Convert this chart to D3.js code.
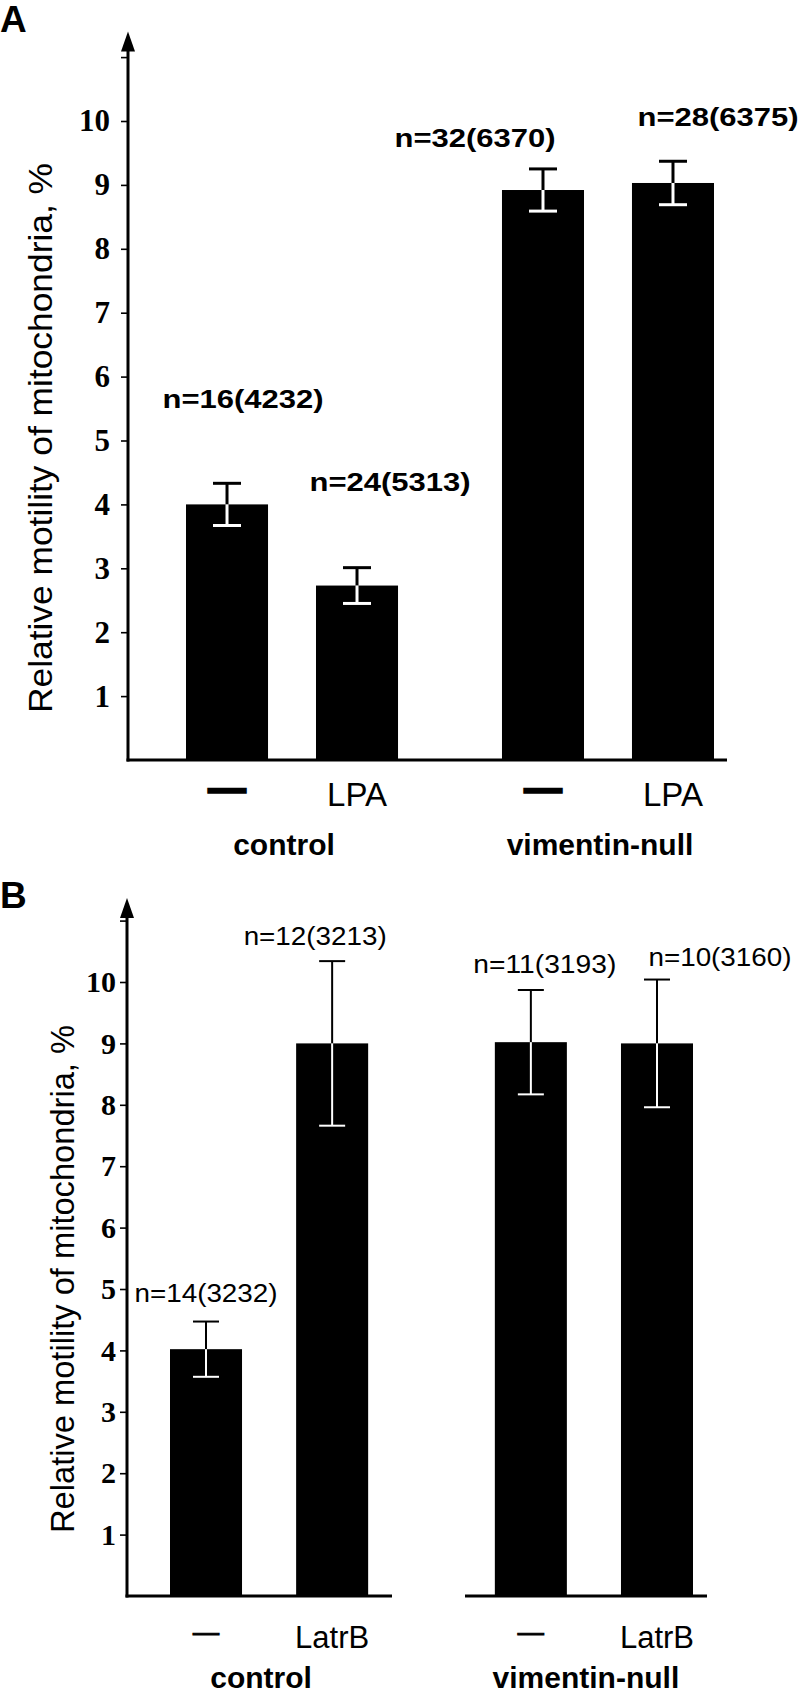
<!DOCTYPE html>
<html><head><meta charset="utf-8">
<script src="https://cdn.jsdelivr.net/npm/d3@7"></script>
<style>body{margin:0;background:#fff}svg{display:block}</style>
</head><body>
<svg id="chart" width="800" height="1693"></svg>
<script>
// ---------- data ----------
const groups = ["control", "vimentin-null"];
const treatmentsA = ["—", "LPA"];
const treatmentsB = ["—", "LatrB"];
const meansA = [4.0, 2.73, 8.92, 9.03];
const errorsA = [0.33, 0.28, 0.33, 0.34];
const nLabelsA = ["n=16(4232)", "n=24(5313)", "n=32(6370)", "n=28(6375)"];
const meansB = [4.02, 9.0, 9.02, 9.0];
const errorsB = [0.45, 1.34, 0.85, 1.04];
const nLabelsB = ["n=14(3232)", "n=12(3213)", "n=11(3193)", "n=10(3160)"];
const tickValues = [1, 2, 3, 4, 5, 6, 7, 8, 9, 10, 11];
const tickLabels = ["1", "2", "3", "4", "5", "6", "7", "8", "9", "10", ""];
const yTitle = "Relative motility of mitochondria, %";
const panelLetters = ["A", "B"];

// ---------- layout ----------
const panels = [
  {
    letter: panelLetters[0], letterY: 32,
    treatments: treatmentsA, means: meansA, errors: errorsA, nLabels: nLabelsA,
    yRange: [760, 121], axisX: 128, tipValue: 11.4,
    outerRange: [186, 714], outerPad: 0.329, innerPad: 0.369,
    baselines: [[0, 727]],
    errW: 3, capHalf: 14,
    tickFont: 31, tickPad: 11,
    titleX: 52, titleY: 438, titleLen: 550, titleFont: 33,
    nFont: 26, nWeight: "bold", nLen: 161,
    nOffsets: [[16, 75], [33, 77], [-68, 22], [45, 35]],
    xLabelY: 806, xLabelFont: 33, dashFont: 36, dashStroke: 3.5, dashDy: -6,
    groupY: 855
  },
  {
    letter: panelLetters[1], letterY: 908,
    treatments: treatmentsB, means: meansB, errors: errorsB, nLabels: nLabelsB,
    yRange: [1596, 982], axisX: 127, tipValue: 11.37,
    outerRange: [170, 693], outerPad: 0.39, innerPad: 0.429,
    baselines: [[0, 392], [465, 707]],
    errW: 2, capHalf: 13,
    tickFont: 30, tickPad: 4,
    titleX: 74, titleY: 1279, titleLen: 508, titleFont: 33,
    nFont: 25, nWeight: "normal", nLen: 143,
    nOffsets: [[0, 20], [-17, 16], [14, 17], [63, 14]],
    xLabelY: 1648, xLabelFont: 31, dashFont: 26, dashStroke: 1.2, dashDy: -7,
    groupY: 1688
  }
];

const svg = d3.select("#chart");
const sans = "'Liberation Sans', Arial, Helvetica, sans-serif";
const serif = "'Liberation Serif', 'Times New Roman', serif";

panels.forEach(p => {
  const g = svg.append("g");
  const y = d3.scaleLinear().domain([0, 10]).range(p.yRange);
  const x0 = d3.scaleBand().domain(groups).range(p.outerRange)
    .paddingInner(p.outerPad).paddingOuter(0);
  const x1 = d3.scaleBand().domain(p.treatments).range([0, x0.bandwidth()])
    .paddingInner(p.innerPad).paddingOuter(0);

  const rows = [];
  groups.forEach((grp, gi) => p.treatments.forEach((t, ti) => {
    const i = gi * p.treatments.length + ti;
    rows.push({ grp, t, i, mean: p.means[i], err: p.errors[i], n: p.nLabels[i] });
  }));
  const cx = d => x0(d.grp) + x1(d.t) + x1.bandwidth() / 2;

  // panel letter
  g.append("text").attr("x", 0).attr("y", p.letterY)
    .attr("font-family", sans).attr("font-weight", "bold").attr("font-size", 37)
    .attr("fill", "#000").text(p.letter);

  // y axis ticks + labels
  const axis = d3.axisLeft(y).tickValues(tickValues)
    .tickFormat((d, i) => tickLabels[i]).tickSize(7).tickPadding(p.tickPad);
  const ag = g.append("g").attr("transform", `translate(${p.axisX},0)`).call(axis);
  ag.select(".domain").remove();
  ag.selectAll(".tick line").attr("stroke", "#000").attr("stroke-width", 1.6);
  ag.selectAll(".tick text").attr("font-family", serif).attr("font-weight", "bold")
    .attr("font-size", p.tickFont).attr("fill", "#000");

  // axis line with arrow
  const tipY = y(p.tipValue);
  g.append("line").attr("x1", p.axisX).attr("x2", p.axisX)
    .attr("y1", y(0) + 1.5).attr("y2", tipY + 10)
    .attr("stroke", "#000").attr("stroke-width", 3);
  g.append("path")
    .attr("d", `M${p.axisX},${tipY} L${p.axisX - 7},${tipY + 20} L${p.axisX + 7},${tipY + 20} Z`)
    .attr("fill", "#000");

  // bars
  g.selectAll("rect.bar").data(rows).enter().append("rect")
    .attr("x", d => x0(d.grp) + x1(d.t))
    .attr("width", x1.bandwidth())
    .attr("y", d => y(d.mean))
    .attr("height", d => y(0) - y(d.mean))
    .attr("fill", "#000");

  // baseline
  p.baselines.forEach(([a, b]) => {
    g.append("line").attr("x1", a === 0 ? p.axisX - 1.5 : a).attr("x2", b)
      .attr("y1", y(0)).attr("y2", y(0))
      .attr("stroke", "#000").attr("stroke-width", 3);
  });

  // error bars: black above the bar, white inside
  rows.forEach(d => {
    const x = cx(d), top = y(d.mean + d.err), mid = y(d.mean), bot = y(d.mean - d.err);
    g.append("line").attr("x1", x).attr("x2", x).attr("y1", top).attr("y2", mid)
      .attr("stroke", "#000").attr("stroke-width", p.errW);
    g.append("line").attr("x1", x - p.capHalf).attr("x2", x + p.capHalf).attr("y1", top).attr("y2", top)
      .attr("stroke", "#000").attr("stroke-width", p.errW);
    g.append("line").attr("x1", x).attr("x2", x).attr("y1", mid).attr("y2", bot)
      .attr("stroke", "#fff").attr("stroke-width", p.errW);
    g.append("line").attr("x1", x - p.capHalf).attr("x2", x + p.capHalf).attr("y1", bot).attr("y2", bot)
      .attr("stroke", "#fff").attr("stroke-width", p.errW);
  });

  // n labels
  rows.forEach((d, k) => {
    const [dx, gap] = p.nOffsets[k];
    g.append("text").attr("x", cx(d) + dx).attr("y", y(d.mean + d.err) - gap)
      .attr("text-anchor", "middle").attr("font-family", sans)
      .attr("font-weight", p.nWeight).attr("font-size", p.nFont)
      .attr("textLength", p.nLen).attr("lengthAdjust", "spacingAndGlyphs")
      .attr("fill", "#000").text(d.n);
  });

  // treatment labels
  rows.forEach(d => {
    const isDash = d.t === "—";
    const t = g.append("text").attr("x", cx(d))
      .attr("y", p.xLabelY + (isDash ? p.dashDy : 0))
      .attr("text-anchor", "middle").attr("font-family", sans)
      .attr("font-size", isDash ? p.dashFont : p.xLabelFont)
      .attr("fill", "#000").text(d.t);
    if (isDash) t.attr("stroke", "#000").attr("stroke-width", p.dashStroke);
  });

  // group labels
  groups.forEach(grp => {
    g.append("text").attr("x", x0(grp) + x0.bandwidth() / 2 - 8).attr("y", p.groupY)
      .attr("text-anchor", "middle").attr("font-family", sans)
      .attr("font-weight", "bold").attr("font-size", 30).attr("fill", "#000").text(grp);
  });

  // y title
  g.append("text")
    .attr("transform", `translate(${p.titleX},${p.titleY}) rotate(-90)`)
    .attr("text-anchor", "middle").attr("font-family", sans)
    .attr("font-size", p.titleFont).attr("textLength", p.titleLen)
    .attr("lengthAdjust", "spacingAndGlyphs").attr("fill", "#000").text(yTitle);
});
</script>
</body></html>
